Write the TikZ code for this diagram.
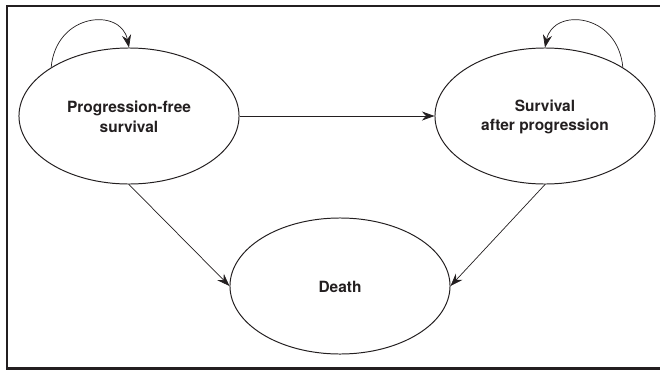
\documentclass[tikz,border=0pt]{standalone}
\usepackage{fontspec}
\usepackage{xcolor}
\usepackage{tikz}
\usetikzlibrary{shapes.geometric,arrows.meta}
\newfontfamily\lblfont{TeX Gyre Heros}
\definecolor{ink}{HTML}{231F20}
\tikzset{
  frameline/.style={draw=ink, line width=1.5pt},
  state/.style={ellipse, draw=ink, line width=0.7pt, minimum width=5.5cm, minimum height=3.4cm, inner sep=0pt},
  trans/.style={draw=ink, line width=0.5pt, -{Stealth[length=9pt,width=6.5pt,inset=3pt]}},
  lbl/.style={text=ink, font=\lblfont\bfseries\fontsize{11}{14}\selectfont, align=center}
}
\begin{document}
\begin{tikzpicture}[x=0.025cm, y=-0.025cm]
  \useasboundingbox (0,0) rectangle (660,370);
  \draw[frameline] (675,6) -- (7,6) -- (7,368.5) -- (675,368.5);

  \node[state] (pfs) at (129,116) {};
  \node[state] (sap) at (545,116) {};
  \node[state] (death) at (340,286) {};

  \node[lbl] (pfstext) at (129,117) {Progression-free\\survival};
  \node[lbl] (saptext) at (545,117) {Survival\\after progression};
  \node[lbl] (deathtext) at (340,287) {Death};

  \draw[trans] (pfs.east) -- (sap.west);
  \draw[trans] (pfs.south) -- (death.west);
  \draw[trans] (sap.south) -- (death.east);

  % self loops
  \draw[trans] (pfs.148) .. controls +(5,-55) and +(-8,-40) .. (pfs.north);
  \draw[trans] (sap.32) .. controls +(-5,-55) and +(8,-40) .. (sap.north);
\end{tikzpicture}
\end{document}
